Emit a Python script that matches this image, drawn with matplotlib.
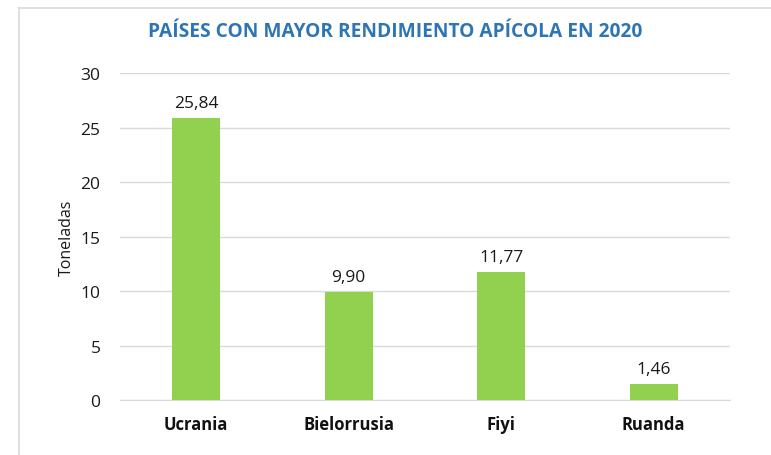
import matplotlib.pyplot as plt
from matplotlib.lines import Line2D

# Datos del gráfico
paises = ["Ucrania", "Bielorrusia", "Fiyi", "Ruanda"]
toneladas = [25.84, 9.90, 11.77, 1.46]
etiquetas = ["25,84", "9,90", "11,77", "1,46"]
ticks_y = [0, 5, 10, 15, 20, 25, 30]

plt.rcParams['font.family'] = ['Open Sans', 'DejaVu Sans']

fig = plt.figure(figsize=(7.71, 4.56), dpi=100)
ax = fig.add_axes([0.1556, 0.1206, 0.7912, 0.7171])

x = range(len(paises))
bars = ax.bar(x, toneladas, width=0.315, color="#92D050", zorder=3)

for b, txt in zip(bars, etiquetas):
    ax.annotate(txt, (b.get_x() + b.get_width() / 2, b.get_height()),
                xytext=(0, 5), textcoords="offset points",
                ha="center", va="bottom", fontsize=12.5, color="#1a1a1a")

ax.set_xlim(-0.5, 3.5)
ax.set_ylim(0, 30)
ax.set_yticks(ticks_y)
ax.set_yticklabels([str(t) for t in ticks_y], fontsize=12.5, color="#1a1a1a")
ax.set_xticks(list(x))
ax.set_xticklabels(paises, fontsize=12, fontweight="bold", color="#111111")
ax.tick_params(axis="x", length=0, pad=11)
ax.tick_params(axis="y", length=0, pad=14)

ax.grid(axis="y", color="#d9d9d9", linewidth=1, zorder=0)
for s in ["top", "right", "left"]:
    ax.spines[s].set_visible(False)
ax.spines["bottom"].set_color("#d9d9d9")

ax.set_ylabel("Toneladas", fontsize=11.5, color="#1a1a1a", labelpad=4)

fig.text(0.512, 0.93, "PAÍSES CON MAYOR RENDIMIENTO APÍCOLA EN 2020",
         ha="center", va="center", fontsize=13.8, fontweight="bold", color="#2E75B6")

# Borde del área del gráfico
fig.add_artist(Line2D([19 / 771, 1], [1 - 9 / 456, 1 - 9 / 456], color="#d9d9d9", linewidth=1.2))
fig.add_artist(Line2D([19 / 771, 19 / 771], [0, 1 - 9 / 456], color="#d9d9d9", linewidth=1.2))

fig.savefig("out.png", dpi=100)
